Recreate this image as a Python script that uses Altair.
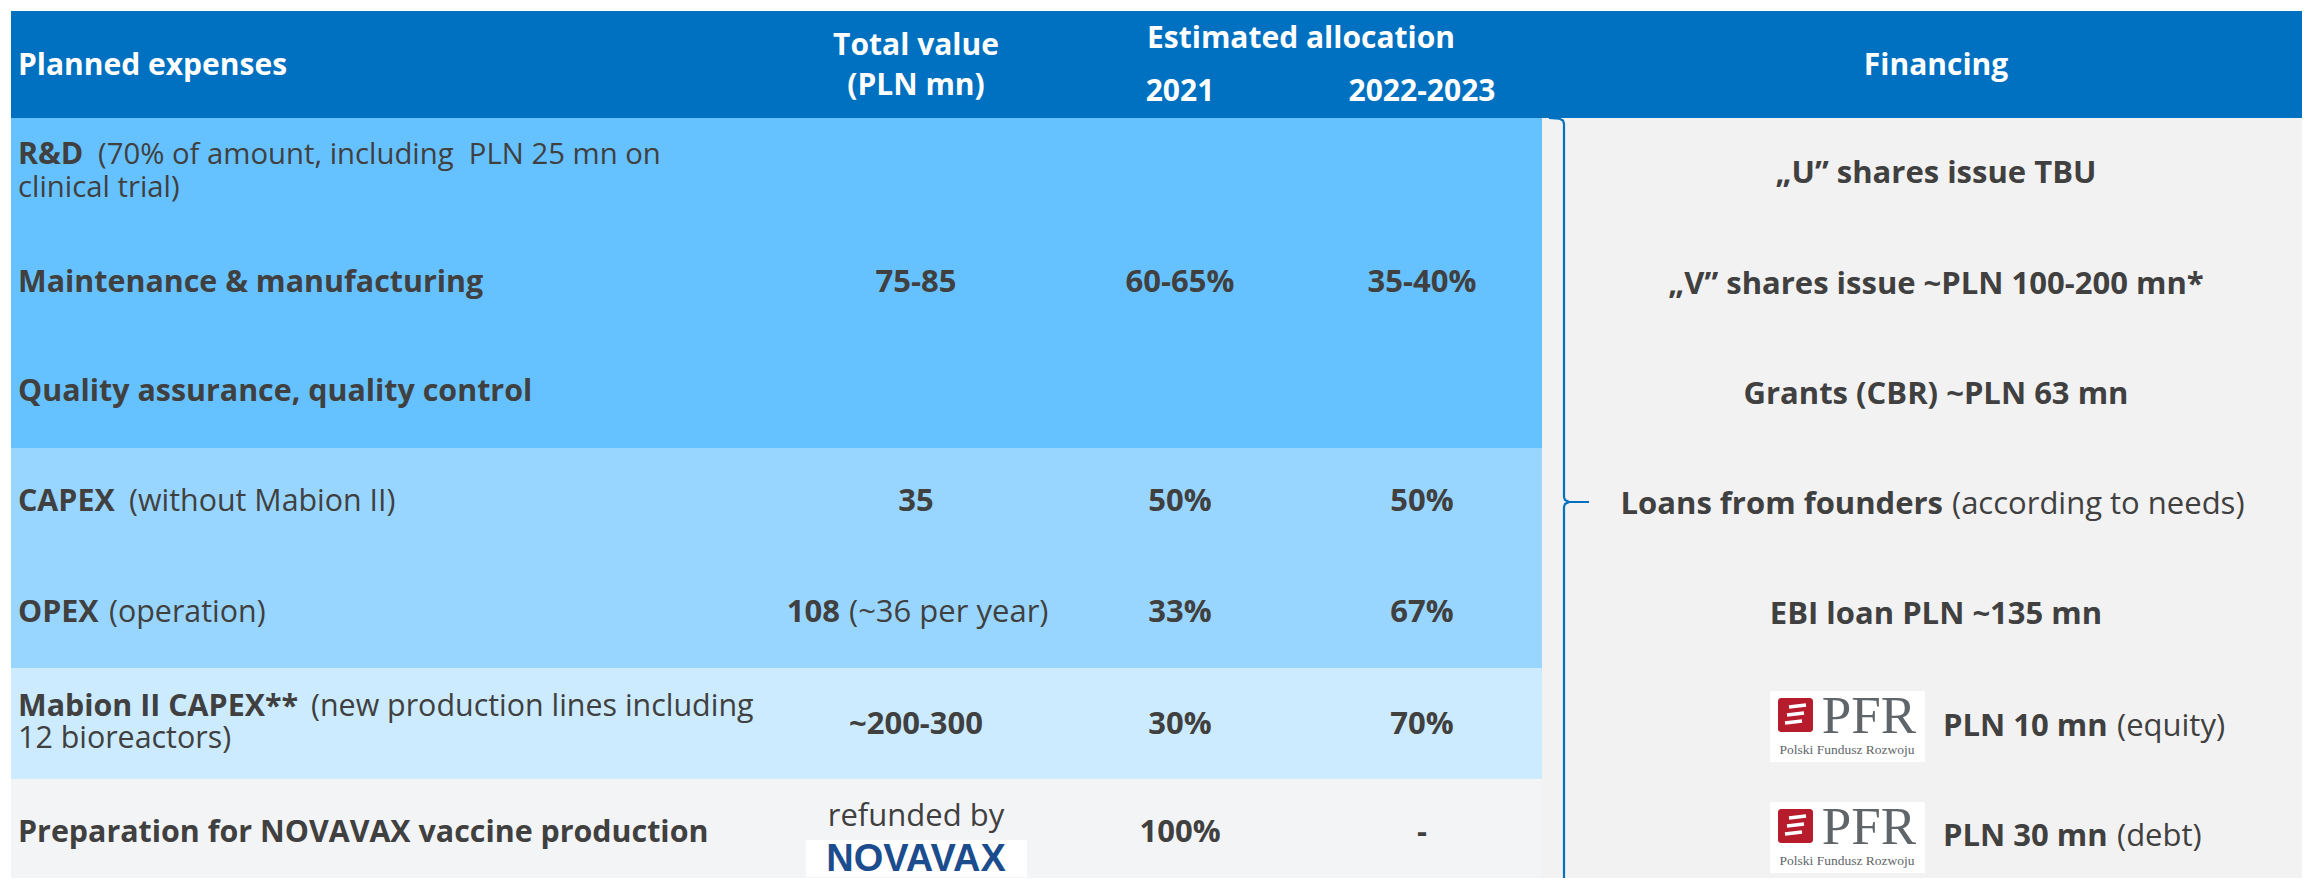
import altair as alt
import pandas as pd

# ---------------- data (table content) ----------------
header_left = "Planned expenses"
header_total = ["Total value", "(PLN mn)"]
header_alloc = "Estimated allocation"
alloc_years = ["2021", "2022-2023"]
header_fin = "Financing"

expense_bold = ["R&D", "Maintenance & manufacturing", "Quality assurance, quality control",
                "CAPEX", "OPEX", "Mabion II CAPEX**", "Preparation for NOVAVAX vaccine production"]
expense_note = ["(70% of amount, including\u00a0 PLN 25 mn on", "", "", "(without Mabion II)",
                "(operation)", "(new production lines including", ""]
expense_note2 = ["clinical trial)", "", "", "", "", "12 bioreactors)", ""]

total_bold = ["", "75-85", "", "35", "108", "~200-300", ""]
total_note = ["", "", "", "", "(~36 per year)", "", "refunded by"]
alloc_2021 = ["", "60-65%", "", "50%", "33%", "30%", "100%"]
alloc_2022 = ["", "35-40%", "", "50%", "67%", "70%", "-"]

fin_bold = ["\u201eU\u201d shares issue TBU", "\u201eV\u201d shares issue ~PLN 100-200 mn*",
            "Grants (CBR) ~PLN 63 mn", "Loans from founders", "EBI loan PLN ~135 mn",
            "PLN 10 mn", "PLN 30 mn"]
fin_note = ["", "", "", "(according to needs)", "", "(equity)", "(debt)"]

logo_novavax = "NOVAVAX"
logo_pfr = "PFR"
logo_pfr_sub = "Polski Fundusz Rozwoju"

# ---------------- layout ----------------
W, H = 2294, 870
XS = alt.Scale(domain=[8, 8 + W], nice=False, zero=False)
YS = alt.Scale(domain=[8 + H, 8], nice=False, zero=False)
RIGHT = 8 + W
BOTTOM = 8 + H

HEAD = "#0070C0"
DARK = "#404040"
FONT = "Open Sans"
BODY = 30.4
VAL = 31
FIN = 31
HSIZE = 30

row_y = [171, 283, 392, 502, 613, 725, 833]
two_line = {0: (155, 188), 5: (707, 739)}
note_size = {0: 29.3}
fin_y = [174, 285, 395, 505, 615, 727, 837]
x_left = 18
x_total = 916
x_2021 = 1180
x_2022 = 1422
x_fin = 1936
note_x = [98, None, None, 129, 109, 311, None]

rects = pd.DataFrame([
    dict(x=11, x2=RIGHT, y=11, y2=118, c=HEAD),
    dict(x=11, x2=1542, y=118, y2=448, c="#66C2FF"),
    dict(x=11, x2=1542, y=448, y2=668, c="#99D6FF"),
    dict(x=11, x2=1542, y=668, y2=779, c="#CCEBFF"),
    dict(x=11, x2=1542, y=779, y2=BOTTOM, c="#F3F4F6"),
    dict(x=1542, x2=RIGHT, y=118, y2=BOTTOM, c="#F2F2F2"),
    dict(x=806, x2=1027, y=840, y2=877, c="#FFFFFF"),
    dict(x=1770, x2=1925, y=691, y2=762, c="#FFFFFF"),
    dict(x=1770, x2=1925, y=802, y2=873, c="#FFFFFF"),
])

def X(f="x"):
    return alt.X(f + ":Q", scale=XS, axis=None)

def Y(f="y"):
    return alt.Y(f + ":Q", scale=YS, axis=None)

layers = []
layers.append(alt.Chart(rects).mark_rect().encode(
    x=X(), x2="x2:Q", y=Y(), y2="y2:Q", color=alt.Color("c:N", scale=None)))

# PFR red icons
icons = pd.DataFrame([dict(x=1778, x2=1813, y=698, y2=732), dict(x=1778, x2=1813, y=809, y2=843)])
layers.append(alt.Chart(icons).mark_rect(color="#B71C2C", cornerRadius=3).encode(
    x=X(), x2="x2:Q", y=Y(), y2="y2:Q"))
stripes = []
for top in (698, 809):
    for k, dy in enumerate((8, 16, 24)):
        stripes.append(dict(x=1789 - 2 * k, x2=1806 - 2 * k, y=top + dy + 1, y2=top + dy - 1))
layers.append(alt.Chart(pd.DataFrame(stripes)).mark_rule(color="white", strokeWidth=3.5).encode(
    x=X(), x2="x2:Q", y=Y(), y2="y2:Q"))

# brace
brace = pd.DataFrame([
    dict(seg="a", i=0, x=1549, y=118), dict(seg="a", i=1, x=1559, y=118.6),
    dict(seg="a", i=2, x=1563, y=120.5), dict(seg="a", i=3, x=1564, y=124),
    dict(seg="a", i=4, x=1564, y=497), dict(seg="a", i=5, x=1565, y=500),
    dict(seg="a", i=6, x=1569, y=502), dict(seg="a", i=7, x=1589, y=502),
    dict(seg="b", i=0, x=1569, y=502), dict(seg="b", i=1, x=1565, y=504),
    dict(seg="b", i=2, x=1564, y=507), dict(seg="b", i=3, x=1564, y=BOTTOM),
])
layers.append(alt.Chart(brace).mark_line(color=HEAD, strokeWidth=2.2).encode(
    x=X(), y=Y(), detail="seg:N", order="i:Q"))

# text items
items = []
def add(text, x, y, align="center", weight="normal", size=BODY, color=DARK, font=FONT):
    if text:
        items.append(dict(text=text, x=x, y=y, align=align, weight=weight, size=size,
                          color=color, font=font))

add(header_left, x_left, 66, "left", "bold", HSIZE, "white")
add(header_total[0], x_total, 46, "center", "bold", HSIZE, "white")
add(header_total[1], x_total, 86, "center", "bold", HSIZE, "white")
add(header_alloc, 1301, 39, "center", "bold", HSIZE, "white")
add(alloc_years[0], x_2021, 92, "center", "bold", HSIZE, "white")
add(alloc_years[1], x_2022, 92, "center", "bold", HSIZE, "white")
add(header_fin, x_fin, 66, "center", "bold", HSIZE, "white")

for i in range(7):
    y = row_y[i]
    ns = note_size.get(i, BODY)
    if expense_note2[i]:
        y1, y2 = two_line[i]
        add(expense_bold[i], x_left, y1, "left", "bold")
        add(expense_note[i], note_x[i], y1, "left", "normal", ns)
        add(expense_note2[i], x_left, y2, "left", "normal", ns)
    else:
        add(expense_bold[i], x_left, y, "left", "bold")
        if expense_note[i]:
            add(expense_note[i], note_x[i], y, "left", "normal", ns)
    if total_bold[i] and total_note[i]:
        add(total_bold[i], 840, y, "right", "bold", VAL)
        add(total_note[i], 849, y, "left", "normal", VAL)
    elif total_bold[i]:
        add(total_bold[i], x_total, y, "center", "bold", VAL)
    elif total_note[i]:
        add(total_note[i], x_total, 817, "center", "normal", VAL)
    add(alloc_2021[i], x_2021, y, "center", "bold", VAL)
    add(alloc_2022[i], x_2022, y, "center", "bold", VAL)

for i in range(7):
    y = fin_y[i]
    if i == 3:
        add(fin_bold[i], 1943, y, "right", "bold", FIN)
        add(fin_note[i], 1952, y, "left", "normal", FIN)
    elif i >= 5:
        add(fin_bold[i], 1943, y, "left", "bold", FIN)
        add(fin_note[i], 2117, y, "left", "normal", FIN)
    else:
        add(fin_bold[i], x_fin, y, "center", "bold", FIN)

add(logo_novavax, 916, 860, "center", "bold", 38, "#1B4D8E", "Liberation Sans")
add(logo_pfr, 1869, 717, "center", "normal", 53, "#5F6569", "Liberation Serif")
add(logo_pfr, 1869, 828, "center", "normal", 53, "#5F6569", "Liberation Serif")
add(logo_pfr_sub, 1847, 750, "center", "normal", 13.5, "#5F6569", "Liberation Serif")
add(logo_pfr_sub, 1847, 861, "center", "normal", 13.5, "#5F6569", "Liberation Serif")

tdf = pd.DataFrame(items)
for key, g in tdf.groupby(["align", "weight", "size", "color", "font"]):
    align, weight, size, color, font = key
    layers.append(alt.Chart(g[["text", "x", "y"]]).mark_text(
        align=align, baseline="middle", fontWeight=weight, fontSize=float(size),
        color=color, font=font).encode(x=X(), y=Y(), text="text:N"))

chart = alt.layer(*layers).properties(
    width=W, height=H, autosize=alt.AutoSizeParams(type="none"), padding=0,
    background="white"
).configure_view(stroke=None)

chart.save("out.html", embed_options={"renderer": "svg", "actions": False})
